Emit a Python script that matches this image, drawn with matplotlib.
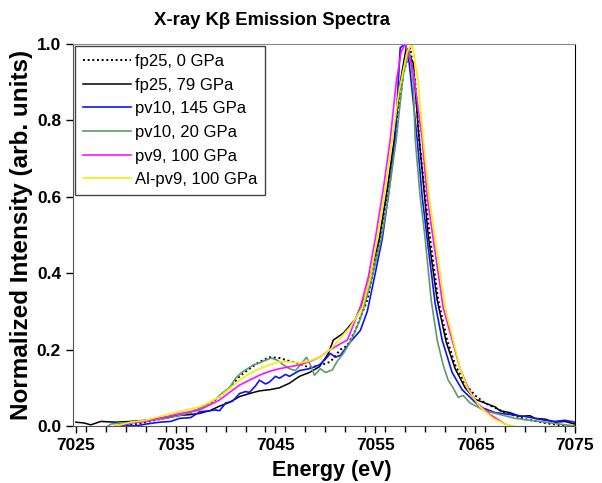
# X-ray Kbeta emission spectra
import matplotlib
matplotlib.use("Agg")
import matplotlib.pyplot as plt
from matplotlib.ticker import MultipleLocator

plt.rcParams['font.family'] = ['Liberation Sans', 'DejaVu Sans']

# fp25, 0 GPa (dotted black)
e_fp25_0 = [7030, 7032, 7033.4, 7035, 7036.5, 7037.4, 7038.5, 7039.4, 7040.4, 7041.4,
            7042.4, 7043.4, 7044.4, 7045.4, 7046.4, 7047.4, 7048.4, 7049.4, 7050.5, 7051.5,
            7052.2, 7053, 7054.2, 7055, 7055.5, 7056.2, 7057.0, 7057.8, 7058.5,
            7059.0, 7059.4, 7060.0, 7060.5, 7061.3, 7062.2, 7063, 7064, 7065,
            7066, 7068, 7070, 7072, 7074]
i_fp25_0 = [0.0, 0.01, 0.018, 0.025, 0.035, 0.047, 0.06, 0.077, 0.1, 0.13,
            0.15, 0.168, 0.18, 0.178, 0.17, 0.163, 0.153, 0.158, 0.168, 0.2,
            0.21, 0.25, 0.33, 0.43, 0.49, 0.6, 0.75, 0.92, 0.99,
            0.9, 0.75, 0.6, 0.49, 0.33, 0.225, 0.16, 0.11, 0.08,
            0.06, 0.035, 0.018, 0.008, 0.0]

# fp25, 79 GPa (solid black)
e_fp25_79 = [7025, 7025.8, 7026.5, 7027.5, 7029, 7030.5, 7032, 7033.4, 7034.5, 7035.5,
             7036.5, 7037.4, 7038.4, 7039.4, 7040.4, 7041.4, 7042.4, 7043.4, 7044.4, 7045.4,
             7046.4, 7047.4, 7048.4, 7049.4, 7050.3, 7050.8, 7051.8, 7053, 7054, 7055.4,
             7056.2, 7056.9, 7057.5, 7058.1, 7058.8, 7059.3, 7060.3, 7061.2, 7062.1,
             7063, 7064, 7065, 7066, 7067, 7067.5, 7068.5, 7069.5, 7070.5,
             7071, 7072, 7073, 7074, 7075]
i_fp25_79 = [0.01, 0.008, 0.003, 0.012, 0.01, 0.012, 0.015, 0.02, 0.025, 0.028,
             0.03, 0.033, 0.04, 0.052, 0.062, 0.077, 0.085, 0.092, 0.095, 0.1,
             0.112, 0.13, 0.14, 0.155, 0.19, 0.225, 0.243, 0.28, 0.34, 0.49,
             0.62, 0.75, 0.9, 0.99, 0.95, 0.78, 0.5, 0.33, 0.22,
             0.15, 0.1, 0.07, 0.06, 0.05, 0.04, 0.035, 0.025, 0.027,
             0.02, 0.018, 0.01, 0.012, 0.005]

# pv10, 145 GPa (blue)
e_pv10_145 = [7029, 7030, 7031, 7032, 7033.4, 7034.5, 7035.4, 7036.5, 7037.4, 7038.4,
              7039.0, 7039.4, 7040, 7040.7, 7041.4, 7042, 7042.4, 7043, 7043.4, 7044,
              7044.4, 7045, 7045.4, 7046, 7046.4, 7047.4, 7048.4, 7049.4, 7050, 7050.5,
              7051, 7051.5, 7052.5, 7053.5, 7054.2, 7055, 7055.7, 7056.4, 7057.0, 7057.3,
              7057.5, 7058, 7058.4, 7059.2, 7059.7, 7060.2, 7061, 7061.7, 7062.7, 7063.7,
              7065.5, 7067, 7068.5, 7070, 7071, 7072, 7073, 7074, 7075]
i_pv10_145 = [0.0, 0.003, 0.0, 0.005, 0.01, 0.012, 0.02, 0.022, 0.037, 0.04,
              0.042, 0.04, 0.06, 0.065, 0.085, 0.09, 0.088, 0.105, 0.12, 0.11,
              0.115, 0.13, 0.125, 0.135, 0.13, 0.145, 0.15, 0.16, 0.175, 0.19,
              0.18, 0.185, 0.22, 0.25, 0.3, 0.4, 0.49, 0.62, 0.75, 0.9,
              0.99, 1.0, 0.95, 0.75, 0.6, 0.49, 0.32, 0.225, 0.14, 0.095,
              0.05, 0.035, 0.03, 0.025, 0.02, 0.015, 0.012, 0.015, 0.01]

# pv10, 20 GPa (green)
e_pv10_20 = [7027.7, 7028.5, 7029.5, 7031, 7032.5, 7034, 7035.5, 7037, 7038, 7039,
             7039.6, 7040.4, 7041, 7041.6, 7042.2, 7042.8, 7043.4, 7044, 7044.6, 7045.2,
             7045.8, 7046.4, 7047, 7047.5, 7048.1, 7048.5, 7048.9, 7049.5, 7050, 7050.7,
             7051.2, 7051.8, 7052.5, 7053.5, 7054.5, 7055.6, 7056.3, 7057.1, 7057.8,
             7058.4, 7058.8, 7059.0, 7059.5, 7060.0, 7060.6, 7061.2, 7061.8, 7062.3, 7062.8,
             7063.3, 7063.8, 7064.5, 7066, 7067.5, 7069, 7072, 7075]
i_pv10_20 = [-0.01, 0.005, 0.008, 0.01, 0.015, 0.02, 0.028, 0.04, 0.055, 0.07,
             0.085, 0.1, 0.125, 0.14, 0.15, 0.16, 0.165, 0.172, 0.178, 0.172,
             0.16, 0.15, 0.145, 0.16, 0.18, 0.16, 0.133, 0.15, 0.14, 0.147,
             0.17, 0.19, 0.22, 0.28, 0.37, 0.49, 0.6, 0.75, 0.92,
             0.985, 0.9, 0.75, 0.6, 0.49, 0.33, 0.225, 0.16, 0.12, 0.1,
             0.075, 0.08, 0.06, 0.04, 0.03, 0.02, 0.01, 0.0]

# pv9, 100 GPa (magenta)
e_pv9 = [7029, 7030.5, 7032, 7033.4, 7035, 7036.5, 7037.4, 7038.4, 7039.4, 7040.4,
         7041.4, 7042.4, 7043.4, 7044.4, 7045.4, 7046.4, 7047.4, 7048.4, 7049.4, 7050.5,
         7051.5, 7052.2, 7053.5, 7054.3, 7055.0, 7055.8, 7056.5, 7057.1, 7057.6, 7058.0,
         7058.8, 7059.7, 7060.2, 7060.8, 7061.8, 7062.7, 7063.5, 7064.3, 7065.2, 7066.5,
         7068]
i_pv9 = [0.0, 0.008, 0.012, 0.02, 0.03, 0.038, 0.042, 0.055, 0.068, 0.088,
         0.107, 0.12, 0.133, 0.143, 0.15, 0.155, 0.16, 0.168, 0.18, 0.2,
         0.215, 0.225, 0.31, 0.39, 0.49, 0.62, 0.75, 0.9, 0.98, 1.0,
         0.93, 0.75, 0.6, 0.49, 0.31, 0.225, 0.15, 0.1, 0.06, 0.03,
         0.005]

# Al-pv9, 100 GPa (yellow)
e_alpv9 = [7029, 7030.5, 7032, 7033.4, 7035, 7036.5, 7037.4, 7038.4, 7039.4, 7040.4,
           7041.4, 7042.4, 7043.4, 7044.4, 7045.4, 7046.4, 7047.4, 7048.4, 7049.4, 7050.5,
           7051.5, 7052.5, 7053.7, 7054.5, 7055.2, 7056.0, 7056.7, 7057.4, 7058.2, 7058.7,
           7059.3, 7059.8, 7060.4, 7061.0, 7062.0, 7062.8, 7063.5, 7064.3, 7065.5, 7066.8,
           7068, 7068.8]
i_alpv9 = [0.0, 0.01, 0.015, 0.025, 0.035, 0.045, 0.05, 0.062, 0.077, 0.098,
           0.12, 0.137, 0.15, 0.16, 0.168, 0.168, 0.165, 0.17, 0.18, 0.2,
           0.23, 0.26, 0.31, 0.39, 0.49, 0.62, 0.75, 0.88, 0.98, 1.0,
           0.9, 0.75, 0.6, 0.49, 0.31, 0.225, 0.15, 0.095, 0.05, 0.02,
           0.005, 0.0]

fig = plt.figure(figsize=(6.02, 4.83), dpi=100)
ax = fig.add_axes([0.121, 0.118, 0.834, 0.791])

ax.plot(e_fp25_0, i_fp25_0, color='black', lw=1.4, ls=(0, (1, 1.4)), label='fp25, 0 GPa')
ax.plot(e_fp25_79, i_fp25_79, color='black', lw=1.1, label='fp25, 79 GPa')
ax.plot(e_pv10_145, i_pv10_145, color='#1010ff', lw=1.2, label='pv10, 145 GPa')
ax.plot(e_pv10_20, i_pv10_20, color='#5e9a6a', lw=1.2, label='pv10, 20 GPa')
ax.plot(e_pv9, i_pv9, color='#ff10ff', lw=1.2, label='pv9, 100 GPa')
ax.plot(e_alpv9, i_alpv9, color='#f5f000', lw=1.2, label='Al-pv9, 100 GPa')

ax.set_xlim(7024.7, 7075)
ax.set_ylim(0, 1.0)
ax.xaxis.set_minor_locator(MultipleLocator(2))
ax.yaxis.set_major_locator(MultipleLocator(0.2))
ax.set_xticks([7025, 7035, 7045, 7055, 7065, 7075])
ax.tick_params(which='both', direction='out', top=False, right=False)
ax.tick_params(which='major', length=5, width=1, labelsize=12.5)
ax.tick_params(which='minor', length=4, width=1)
for lab in ax.get_xticklabels() + ax.get_yticklabels():
    lab.set_fontweight('bold')

for side in ['left', 'bottom']:
    ax.spines[side].set_color('#555555')
ax.spines['top'].set_color('#888888')
ax.spines['right'].set_color('black')

ax.set_xlabel('Energy (eV)', fontsize=15.5, fontweight='bold')
ax.xaxis.set_label_coords(0.515, -0.088)
ax.set_ylabel('Normalized Intensity (arb. units)', fontsize=17.5, fontweight='bold', labelpad=3)
fig.text(0.452, 0.958, 'X-ray K\u03b2 Emission Spectra', ha='center', va='center',
         fontsize=13.3, fontweight='bold')

leg = ax.legend(loc='upper left', fontsize=12, handlelength=2.9, handletextpad=0.25,
                labelspacing=0.52, borderaxespad=0.15, borderpad=0.45,
                fancybox=False, framealpha=1)
leg.get_frame().set_edgecolor('#444444')
leg.get_frame().set_linewidth(1.0)

fig.savefig('out.png', dpi=100)
